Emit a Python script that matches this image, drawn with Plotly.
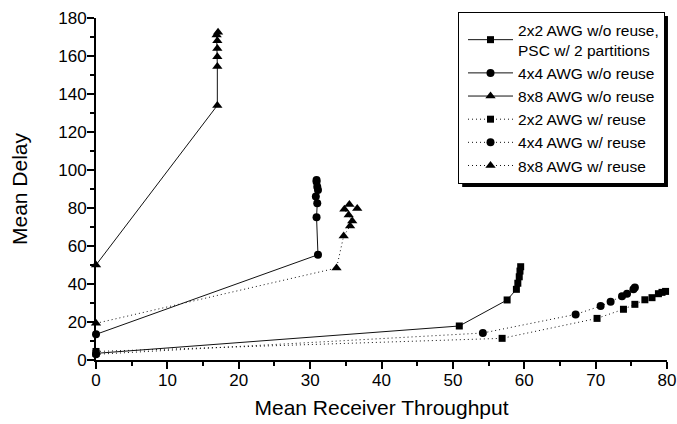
import plotly.graph_objects as go

# ---- data ----
x_2x2_nr = [0, 50.9, 57.6, 58.9, 59.1, 59.3, 59.4, 59.5]
y_2x2_nr = [3.5, 17.9, 31.6, 37.2, 40.4, 43.8, 46.8, 49.1]

x_4x4_nr = [0, 31.1, 30.9, 31.0, 30.8, 31.1, 31.0, 30.9, 30.9]
y_4x4_nr = [13.5, 55.4, 75.1, 82.5, 86.0, 89.5, 91.2, 93.8, 94.7]

x_8x8_nr = [0, 17.0, 17.0, 17.0, 17.0, 17.0, 16.9, 17.1]
y_8x8_nr = [50.0, 134.0, 154.5, 159.6, 164.0, 168.0, 171.0, 172.5]

x_2x2_r = [0, 56.9, 70.2, 73.9, 75.5, 76.9, 77.9, 78.8, 79.3, 79.8]
y_2x2_r = [4.5, 11.4, 21.9, 26.7, 29.3, 31.7, 32.8, 34.9, 35.6, 36.1]

x_4x4_r = [0, 54.2, 67.2, 70.7, 72.1, 73.7, 74.4, 75.3, 75.5]
y_4x4_r = [3.0, 14.2, 24.0, 28.4, 30.7, 33.5, 34.9, 37.2, 38.1]

x_8x8_r = [0, 33.7, 34.7, 35.6, 35.9, 35.4, 34.8, 35.5, 36.6]
y_8x8_r = [19.3, 48.4, 65.3, 70.5, 73.2, 76.3, 79.3, 81.9, 79.8]

series = [
    ("2x2 AWG w/o reuse,<br>PSC w/ 2 partitions", x_2x2_nr, y_2x2_nr, "square", 7, "solid"),
    ("4x4 AWG w/o reuse", x_4x4_nr, y_4x4_nr, "circle", 8, "solid"),
    ("8x8 AWG w/o reuse", x_8x8_nr, y_8x8_nr, "triangle-up", 9, "solid"),
    ("2x2 AWG w/ reuse", x_2x2_r, y_2x2_r, "square", 7, "1px,3px"),
    ("4x4 AWG w/ reuse", x_4x4_r, y_4x4_r, "circle", 8, "1px,3px"),
    ("8x8 AWG w/ reuse", x_8x8_r, y_8x8_r, "triangle-up", 9, "1px,3px"),
]

FONT = "Liberation Sans, Arial, Helvetica, sans-serif"

fig = go.Figure()
for name, xs, ys, sym, size, dash in series:
    fig.add_trace(go.Scatter(
        x=xs, y=ys, name=name, mode="lines+markers",
        line=dict(color="#111111", width=1, dash=dash),
        marker=dict(symbol=sym, size=size, color="black", line=dict(width=0)),
        cliponaxis=False,
    ))

axis_common = dict(
    showline=True, linecolor="black", linewidth=2,
    ticks="outside", ticklen=7, tickwidth=2, tickcolor="black",
    showgrid=False, zeroline=False, mirror=False,
    ticklabelstandoff=-3, ticklabeloverflow="allow",
    tickfont=dict(family=FONT, size=17, color="black"),
)

fig.update_xaxes(
    range=[0, 80], tick0=0, dtick=10,
    minor=dict(ticks="outside", ticklen=4, tickwidth=2, tickcolor="black", dtick=5),
    title=dict(text="Mean Receiver Throughput", font=dict(family=FONT, size=21, color="black"), standoff=11),
    **axis_common,
)
fig.update_yaxes(
    range=[0, 180], tick0=0, dtick=20,
    minor=dict(ticks="outside", ticklen=4, tickwidth=2, tickcolor="black", dtick=10),
    title=dict(text="Mean Delay", font=dict(family=FONT, size=21, color="black"), standoff=25),
    **axis_common,
)

fig.update_layout(
    width=677, height=424,
    margin=dict(l=96, r=10, t=18, b=64, autoexpand=False),
    paper_bgcolor="white", plot_bgcolor="white",
    font=dict(family=FONT, color="black"),
    legend=dict(
        x=0.634, y=1.0175, xanchor="left", yanchor="top",
        bgcolor="white", bordercolor="black", borderwidth=1,
        font=dict(family=FONT, size=15.5, color="black"),
        tracegroupgap=0, indentation=4, itemwidth=45,
    ),
    shapes=[dict(
        type="rect", xref="paper", yref="paper",
        x0=0.6413, x1=1.0017, y0=0.506, y1=1.006,
        fillcolor="black", line=dict(width=0), layer="above",
    )],
)

# remove the default 8px page margin so the 677x424 figure fills the window exactly
fig.write_html(
    "out.html",
    config={"displayModeBar": False, "staticPlot": True},
    post_script="document.body.style.margin='0';document.documentElement.style.overflow='hidden';",
)
